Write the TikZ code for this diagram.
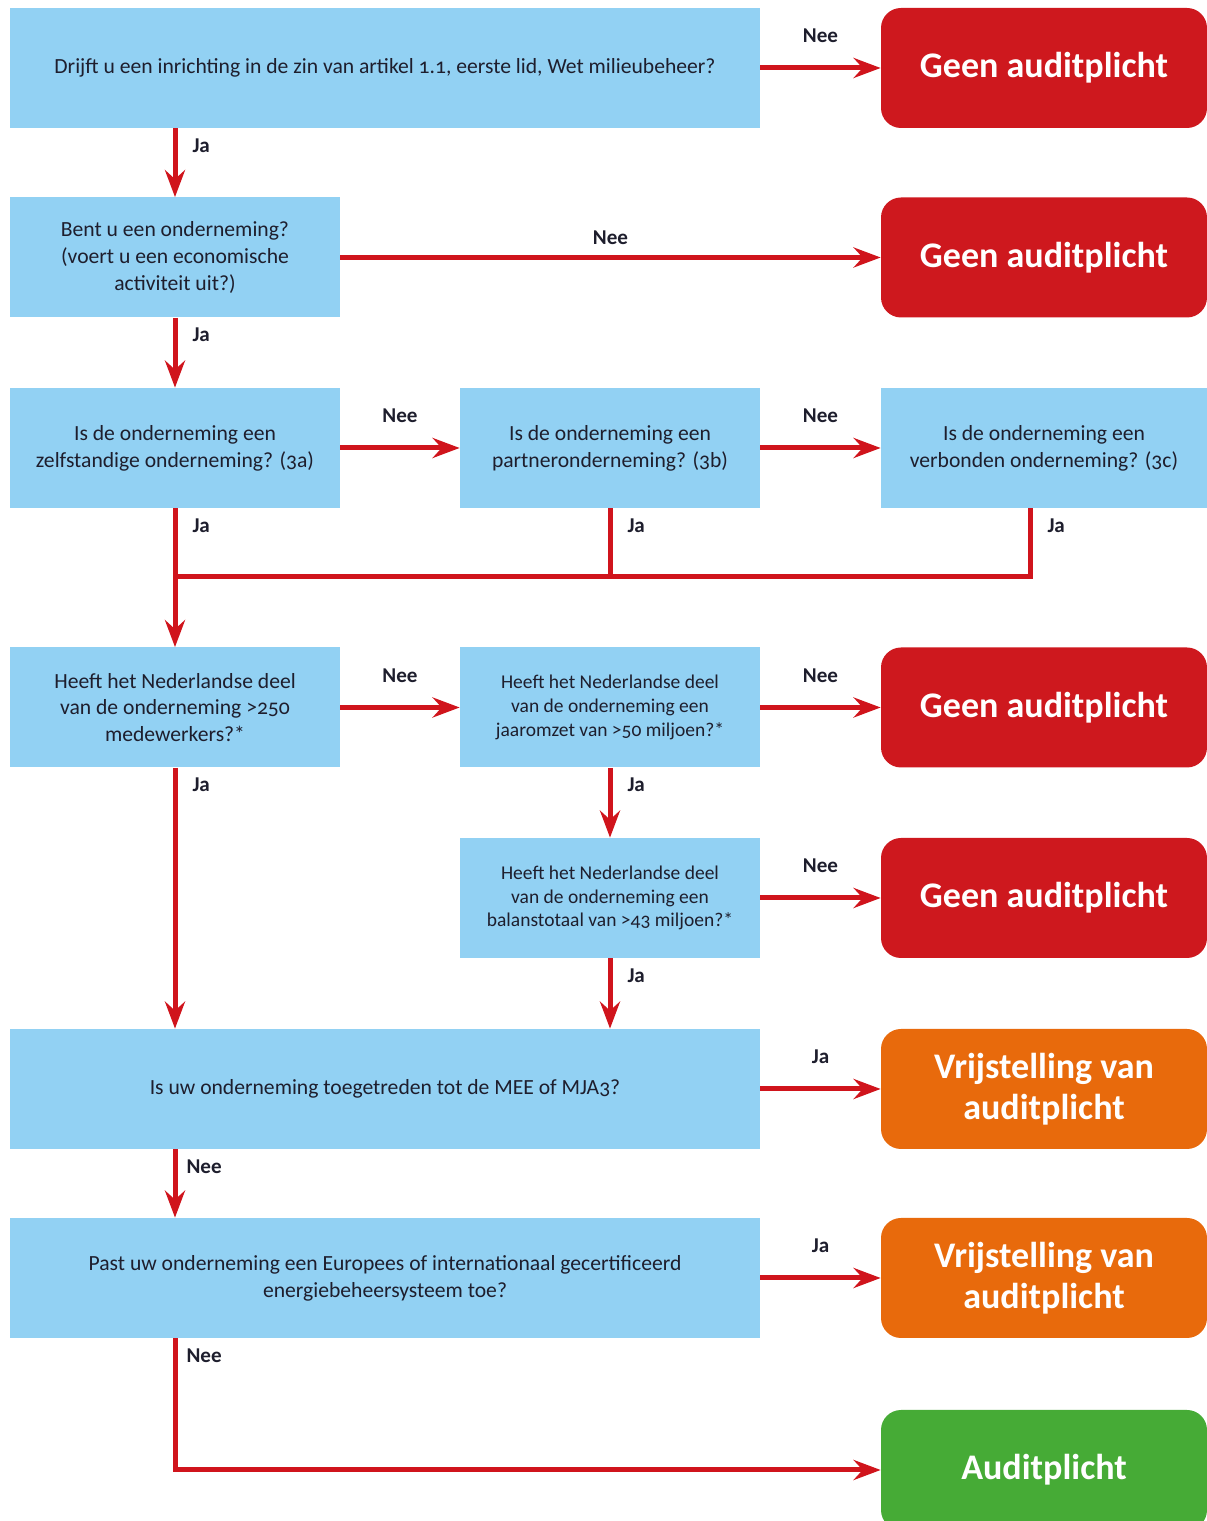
\documentclass[tikz,border=0pt]{standalone}
\usepackage{fontspec}
\setmainfont{Carlito}[Numbers=OldStyle]
\usetikzlibrary{arrows.meta,positioning}
\definecolor{vraagblauw}{RGB}{146,209,243}
\definecolor{pijlrood}{RGB}{208,20,28}
\definecolor{geenrood}{RGB}{206,24,30}
\definecolor{vrijoranje}{RGB}{232,106,12}
\definecolor{plichtgroen}{RGB}{70,171,54}
\definecolor{tekst}{RGB}{30,30,45}

\begin{document}
\begin{tikzpicture}
\tikzstyle{vraag}=[rectangle, fill=vraagblauw, text=tekst, align=center, minimum height=24mm, inner sep=1mm, font=\fontsize{12.3}{15.3}\selectfont]
\tikzstyle{klein}=[font=\fontsize{11.1}{13.6}\selectfont]
\tikzstyle{uitkomst}=[rectangle, rounded corners=4mm, text=white, align=center, minimum width=65.2mm, minimum height=24mm, font=\fontsize{20.5}{23.2}\selectfont\bfseries]
\tikzstyle{connect}=[-{Stealth[length=5.4mm, width=4mm, inset=1.8mm]}, line width=1mm, draw=pijlrood]
\tikzstyle{lijn}=[line width=1mm, draw=pijlrood]
\tikzstyle{keuze}=[inner sep=0mm, text=tekst, font=\fontsize{12}{14}\selectfont\bfseries]
\tikzstyle{ja}=[keuze, pos=0, anchor=north west, xshift=3mm, yshift=-1.5mm]
\tikzstyle{nee}=[keuze, midway, above=4.5mm]

\useasboundingbox (0,0) rectangle (24.14,30.42);

% vragen en uitkomsten
\node[vraag, minimum width=150mm] at (7.7,29.06) (inrichting) {Drijft u een inrichting in de zin van artikel 1.1, eerste lid, Wet milieubeheer?};
\node[uitkomst, fill=geenrood] at (20.88,29.06) (geen1) {Geen auditplicht};
\node[vraag, minimum width=66mm] at (3.5,25.27) (onderneming) {Bent u een onderneming?\\(voert u een economische\\activiteit uit?)};
\node[uitkomst, fill=geenrood] at (20.88,25.27) (geen2) {Geen auditplicht};
\node[vraag, minimum width=66mm] at (3.5,21.46) (zelfstandig) {Is de onderneming een\\zelfstandige onderneming? (3a)};
\node[vraag, minimum width=60mm] at (12.2,21.46) (partner) {Is de onderneming een\\partneronderneming? (3b)};
\node[vraag, minimum width=65.2mm] at (20.88,21.46) (verbonden) {Is de onderneming een\\verbonden onderneming? (3c)};
\node[vraag, minimum width=66mm] at (3.5,16.27) (werknemers) {Heeft het Nederlandse deel\\van de onderneming >250\\medewerkers?*};
\node[vraag, klein, minimum width=60mm] at (12.2,16.27) (omzet) {Heeft het Nederlandse deel\\van de onderneming een\\jaaromzet van >50 miljoen?*};
\node[uitkomst, fill=geenrood] at (20.88,16.27) (geen3) {Geen auditplicht};
\node[vraag, klein, minimum width=60mm] at (12.2,12.46) (balans) {Heeft het Nederlandse deel\\van de onderneming een\\balanstotaal van >43 miljoen?*};
\node[uitkomst, fill=geenrood] at (20.88,12.46) (geen4) {Geen auditplicht};
\node[vraag, minimum width=150mm] at (7.7,8.64) (mee) {Is uw onderneming toegetreden tot de MEE of MJA3?};
\node[uitkomst, fill=vrijoranje] at (20.88,8.64) (vrij1) {Vrijstelling van\\auditplicht};
\node[vraag, minimum width=150mm] at (7.7,4.86) (ebs) {Past uw onderneming een Europees of internationaal gecertificeerd\\energiebeheersysteem toe?};
\node[uitkomst, fill=vrijoranje] at (20.88,4.86) (vrij2) {Vrijstelling van\\auditplicht};
\node[uitkomst, fill=plichtgroen] at (20.88,1.02) (plicht) {Auditplicht};

% pijlen
\path (inrichting) edge [connect] node[nee] {Nee} (geen1);
\path (inrichting.south -| onderneming.north) edge [connect] node[ja] {Ja} (onderneming.north);
\path (onderneming) edge [connect] node[keuze, midway, above=2mm] {Nee} (geen2);
\path (onderneming) edge [connect] node[ja] {Ja} (zelfstandig);
\path (zelfstandig) edge [connect] node[nee] {Nee} (partner);
\path (partner) edge [connect] node[nee] {Nee} (verbonden);

\coordinate (knoop) at (3.5,18.88);
\coordinate (knoopc) at (20.6,18.88);
\draw[lijn] (verbonden.south -| knoopc) -- node[ja] {Ja} (knoopc) -- (knoop);
\draw[lijn] (partner.south) -- node[ja] {Ja} (partner.south |- knoop);
\path (zelfstandig) edge [connect] node[ja] {Ja} (werknemers);

\path (werknemers) edge [connect] node[nee] {Nee} (omzet);
\path (omzet) edge [connect] node[nee] {Nee} (geen3);
\path (werknemers) edge [connect] node[ja] {Ja} (werknemers.south |- mee.north);
\path (omzet) edge [connect] node[ja] {Ja} (balans);
\path (balans) edge [connect] node[nee] {Nee} (geen4);
\path (balans) edge [connect] node[ja] {Ja} (balans.south |- mee.north);

\path (mee) edge [connect] node[nee] {Ja} (vrij1);
\path (mee.south -| werknemers.south) edge [connect] node[ja, xshift=-1.2mm] {Nee} (ebs.north -| werknemers.south);
\path (ebs) edge [connect] node[nee] {Ja} (vrij2);
\draw[connect] (ebs.south -| werknemers.south) |- node[ja, xshift=-1.2mm] {Nee} (plicht);
\end{tikzpicture}
\end{document}
